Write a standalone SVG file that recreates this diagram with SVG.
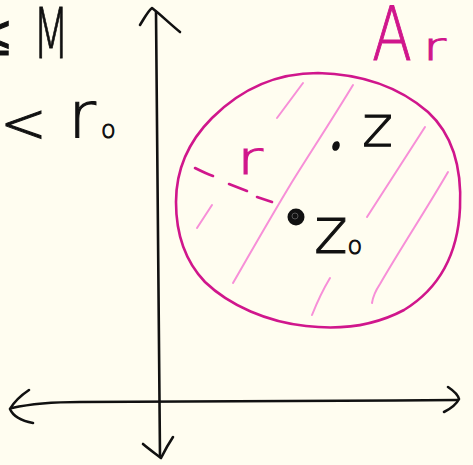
<svg xmlns="http://www.w3.org/2000/svg" width="473" height="465" viewBox="0 0 473 465">
  <style>
    .ink { fill: none; stroke: #111; stroke-width: 2.6; stroke-linecap: round; stroke-linejoin: round; }
    .mag { fill: none; stroke: #d0168c; stroke-width: 2.6; stroke-linecap: round; stroke-linejoin: round; }
    .hatch { fill: none; stroke: #f78fd8; stroke-width: 2; stroke-linecap: round; }
    .t { font-family: "DejaVu Sans", "Liberation Sans", sans-serif; font-weight: 200; fill: #111; stroke: #111; stroke-width: 1; }
    .tm { font-family: "DejaVu Sans", "Liberation Sans", sans-serif; font-weight: 200; fill: #d0168c; stroke: #d0168c; stroke-width: 1; }
  </style>
  <rect x="0" y="0" width="473" height="465" fill="#fffdf0"/>

  <g id="region-Ar">
    <path class="mag" d="M318,73 C360,74 398,86 428,112 C452,134 462,168 460,208 C458,252 440,288 404,310 C374,326 340,330 306,326 C268,322 230,306 205,282 C184,260 176,232 176,202 C176,170 188,142 212,118 C240,90 276,73 318,73 Z"/>
    <path class="hatch" d="M277,118 L303,83"/>
    <path class="hatch" d="M233,283 C252,250 272,215 292,182 C312,150 333,118 353,85"/>
    <path class="hatch" d="M197,228 L212,205"/>
    <path class="hatch" d="M367,217 C386,187 406,157 425,127"/>
    <path class="hatch" d="M372,303 C373,296 376,290 380,284 C402,246 426,210 448,172"/>
    <path class="hatch" d="M312,315 C318,300 324,288 330,278"/>
  </g>

  <g id="radius">
    <path class="mag" d="M195,168 C201,171 207,174 213,176"/>
    <path class="mag" d="M229,184 L247,191"/>
    <path class="mag" d="M257,197 L272,202"/>
    <text class="tm" x="237" y="174" font-size="46" textLength="26" lengthAdjust="spacingAndGlyphs">r</text>
  </g>

  <g id="point-z">
    <ellipse cx="336" cy="146" rx="3.6" ry="5" transform="rotate(20 336 146)" fill="#111"/>
    <text class="t" x="362" y="146" font-size="57" textLength="31" lengthAdjust="spacingAndGlyphs">z</text>
  </g>

  <g id="point-z0">
    <circle cx="296" cy="217" r="8.5" fill="#111"/>
    <circle cx="295" cy="216" r="3" fill="none" stroke="#555" stroke-width="1"/>
    <text class="t" x="314" y="253" font-size="64">z<tspan font-size="24" dy="1">o</tspan></text>
  </g>

  <g id="label-Ar">
    <text class="tm" x="372" y="60" font-size="74" textLength="40" lengthAdjust="spacingAndGlyphs">A</text>
    <text class="tm" x="423" y="60" font-size="37" textLength="23" lengthAdjust="spacingAndGlyphs">r</text>
  </g>

  <g id="left-text">
    <text class="t" x="10" y="55" font-size="56" text-anchor="end">≤</text>
    <text class="t" x="33" y="58" font-size="69" textLength="36" lengthAdjust="spacingAndGlyphs">M</text>
    <text class="t" x="0" y="142" font-size="56">&lt;</text>
    <text class="t" x="68" y="137" font-size="64" textLength="28" lengthAdjust="spacingAndGlyphs">r</text>
    <text class="t" x="101" y="138" font-size="24">o</text>
  </g>

  <g id="connectors">
    <path class="ink" d="M156,12 C157,150 158,300 160,457"/>
    <path class="ink" d="M140,25 C145,17 148,11 152,8 C160,14 170,24 180,32"/>
    <path class="ink" d="M143,444 C150,450 156,454 161,458 C165,450 169,443 173,437"/>
    <path class="ink" d="M12,408 C30,404 50,402 80,402 C200,401 330,401 458,400"/>
    <path class="ink" d="M29,390 C20,396 14,402 10,409 C13,416 22,421 33,423"/>
    <path class="ink" d="M448,387 C454,391 458,395 459,399 C456,405 450,409 444,412"/>
  </g>
</svg>
